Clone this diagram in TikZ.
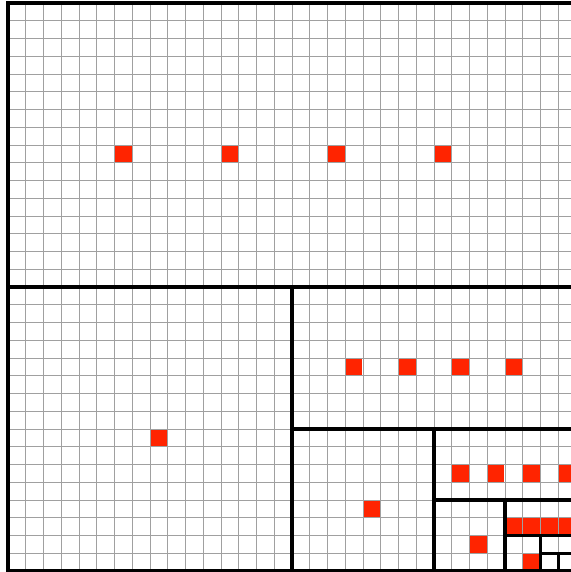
\documentclass[tikz,border=0pt]{standalone}
\definecolor{cellred}{RGB}{255,36,0}
\definecolor{gridgray}{RGB}{160,160,160}
\begin{document}
\begin{tikzpicture}[x=0.5cm,y=-0.5cm,
  gridline/.style={draw=gridgray,line width=0.75pt},
  thickline/.style={draw=black,line width=2.8pt,line cap=rect},
  redcell/.style={fill=cellred}]
\useasboundingbox[fill=white] (-0.4507,-0.169) rectangle (31.718,32.056);
\foreach \i in {0,...,32} {
  \draw[gridline] (\i,0) -- (\i,32);
  \draw[gridline] (0,\i) -- (32,\i);
}
\foreach \c/\r in {6/8,12/8,18/8,24/8,8/24,19/20,22/20,25/20,28/20,20/28,25/26,27/26,29/26,31/26,26/30,28/29,29/29,30/29,31/29,29/31}
  \fill[redcell] (\c+0.03,\r+0.03) rectangle (\c+0.97,\r+0.97);
\draw[thickline] (0,0) rectangle (32,32);
\draw[thickline] (0,16) -- (32,16);
\draw[thickline] (16,16) -- (16,32);
\draw[thickline] (16,24) -- (32,24);
\draw[thickline] (24,24) -- (24,32);
\draw[thickline] (24,28) -- (32,28);
\draw[thickline] (28,28) -- (28,32);
\draw[thickline] (28,30) -- (32,30);
\draw[thickline] (30,30) -- (30,32);
\draw[thickline] (30,31) -- (32,31);
\draw[thickline] (31,31) -- (31,32);
\end{tikzpicture}
\end{document}
